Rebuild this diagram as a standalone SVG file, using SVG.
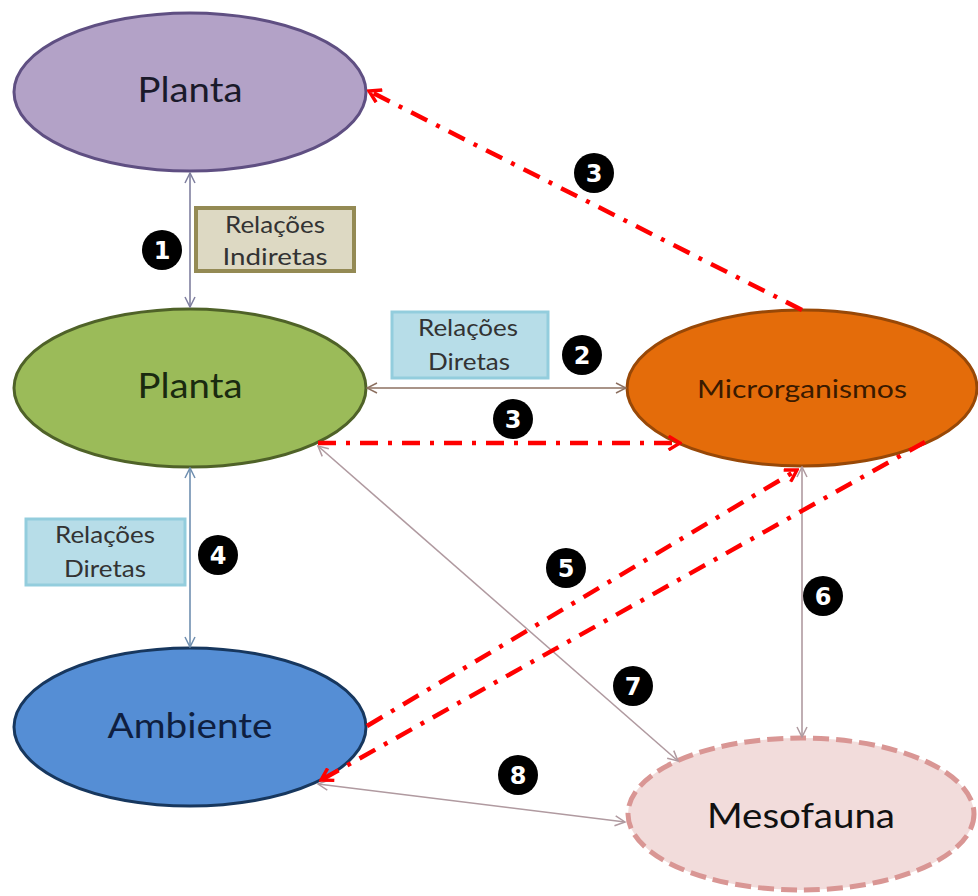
<svg xmlns="http://www.w3.org/2000/svg" width="978" height="896" viewBox="0 0 978 896">
<defs>
<style>
.lbl{font-family:Lato,"Liberation Sans",sans-serif;text-anchor:middle}
.box{font-family:Lato,"Liberation Sans",sans-serif;font-size:23px;fill:#333;text-anchor:middle}
.num{font-family:"DejaVu Sans","Liberation Sans",sans-serif;font-weight:bold;font-size:24px;fill:#fff;text-anchor:middle}
.red{stroke:#ff0000;stroke-width:4.5;stroke-dasharray:18 10 4 10;fill:none}
.thin{fill:none;stroke-width:1.6}
</style>
<marker id="o1" viewBox="0 0 12 12" refX="11" refY="6" markerWidth="12" markerHeight="12" markerUnits="userSpaceOnUse" orient="auto-start-reverse"><path d="M1 1 L11 6 L1 11" fill="none" stroke="#7f7f9f" stroke-width="1.5"/></marker>
<marker id="o2" viewBox="0 0 12 12" refX="11" refY="6" markerWidth="12" markerHeight="12" markerUnits="userSpaceOnUse" orient="auto-start-reverse"><path d="M1 1 L11 6 L1 11" fill="none" stroke="#8c7060" stroke-width="1.5"/></marker>
<marker id="o3" viewBox="0 0 12 12" refX="11" refY="6" markerWidth="12" markerHeight="12" markerUnits="userSpaceOnUse" orient="auto-start-reverse"><path d="M1 1 L11 6 L1 11" fill="none" stroke="#6f8fb0" stroke-width="1.5"/></marker>
<marker id="o4" viewBox="0 0 12 12" refX="11" refY="6" markerWidth="12" markerHeight="12" markerUnits="userSpaceOnUse" orient="auto-start-reverse"><path d="M1 1 L11 6 L1 11" fill="none" stroke="#b09aa0" stroke-width="1.5"/></marker>
<marker id="rh" viewBox="0 0 14 14" refX="12" refY="7" markerWidth="16" markerHeight="16" markerUnits="userSpaceOnUse" orient="auto"><path d="M2 1 L12 7 L2 13" fill="none" stroke="#ff0000" stroke-width="3"/></marker>
</defs>

<g id="planta-top">
<ellipse cx="190" cy="92" rx="176" ry="79" fill="#b3a2c7" stroke="#5f4f82" stroke-width="3"/>
<text class="lbl" x="190" y="102" font-size="34" fill="#1a1a2a" textLength="105" lengthAdjust="spacingAndGlyphs">Planta</text>
</g>
<g id="planta">
<ellipse cx="190" cy="388" rx="176" ry="79" fill="#9bbb59" stroke="#4f6228" stroke-width="3"/>
<text class="lbl" x="190" y="398" font-size="34" fill="#1a2a10" textLength="105" lengthAdjust="spacingAndGlyphs">Planta</text>
</g>
<g id="microrganismos">
<ellipse cx="802" cy="388" rx="175" ry="78" fill="#e46c0a" stroke="#984807" stroke-width="3"/>
<text class="lbl" x="802" y="398" font-size="25" fill="#3a1a00" textLength="210" lengthAdjust="spacingAndGlyphs">Microrganismos</text>
</g>
<g id="ambiente">
<ellipse cx="190" cy="727" rx="176" ry="79" fill="#558ed5" stroke="#17375e" stroke-width="3"/>
<text class="lbl" x="190" y="738" font-size="34" fill="#0f1f40" textLength="165" lengthAdjust="spacingAndGlyphs">Ambiente</text>
</g>
<g id="mesofauna">
<ellipse cx="801" cy="814" rx="173" ry="76" fill="#f2dcdb" stroke="#d99694" stroke-width="5" stroke-dasharray="16 7"/>
<text class="lbl" x="801" y="828" font-size="34" fill="#111" textLength="188" lengthAdjust="spacingAndGlyphs">Mesofauna</text>
</g>

<g id="connectors">
<line x1="190" y1="173" x2="190" y2="307" class="thin" stroke="#7f7f9f" marker-start="url(#o1)" marker-end="url(#o1)"/>
<line x1="367" y1="388" x2="626" y2="388" class="thin" stroke="#8c7060" marker-start="url(#o2)" marker-end="url(#o2)"/>
<line x1="190" y1="468" x2="190" y2="647" class="thin" stroke="#6f8fb0" marker-start="url(#o3)" marker-end="url(#o3)"/>
<line x1="802" y1="467" x2="802" y2="737" class="thin" stroke="#b09aa0" marker-start="url(#o4)" marker-end="url(#o4)"/>
<line x1="318" y1="446" x2="678" y2="761" class="thin" stroke="#b09aa0" marker-start="url(#o4)" marker-end="url(#o4)"/>
<line x1="318" y1="784" x2="625" y2="822" class="thin" stroke="#b09aa0" marker-start="url(#o4)" marker-end="url(#o4)"/>
<line x1="802" y1="310" x2="369" y2="91" class="red" marker-end="url(#rh)"/>
<line x1="318" y1="443" x2="680" y2="443" class="red" marker-end="url(#rh)"/>
<line x1="367" y1="726" x2="797" y2="470" class="red" marker-end="url(#rh)"/>
<line x1="925" y1="442" x2="321" y2="780" class="red" marker-end="url(#rh)"/>
</g>

<g id="box-indiretas">
<rect x="196" y="208" width="158" height="63" fill="#ddd9c3" stroke="#948a54" stroke-width="4"/>
<text class="box" x="275" y="233" textLength="100" lengthAdjust="spacingAndGlyphs">Relações</text>
<text class="box" x="275" y="265" textLength="105" lengthAdjust="spacingAndGlyphs">Indiretas</text>
</g>
<g id="box-diretas-1">
<rect x="392" y="312" width="156" height="66" fill="#b7dde8" stroke="#93cddd" stroke-width="3"/>
<text class="box" x="468" y="336" textLength="100" lengthAdjust="spacingAndGlyphs">Relações</text>
<text class="box" x="469" y="370" textLength="82" lengthAdjust="spacingAndGlyphs">Diretas</text>
</g>
<g id="box-diretas-2">
<rect x="26" y="519" width="159" height="66" fill="#b7dde8" stroke="#93cddd" stroke-width="3"/>
<text class="box" x="105" y="543" textLength="100" lengthAdjust="spacingAndGlyphs">Relações</text>
<text class="box" x="105" y="577" textLength="82" lengthAdjust="spacingAndGlyphs">Diretas</text>
</g>

<g id="badges">
<circle cx="162" cy="250" r="20" fill="#000"/><text class="num" x="162" y="259">1</text>
<circle cx="582" cy="355" r="20" fill="#000"/><text class="num" x="582" y="364">2</text>
<circle cx="513" cy="419" r="20" fill="#000"/><text class="num" x="513" y="428">3</text>
<circle cx="594" cy="173" r="20" fill="#000"/><text class="num" x="594" y="182">3</text>
<circle cx="218" cy="555" r="20" fill="#000"/><text class="num" x="218" y="564">4</text>
<circle cx="566" cy="568" r="20" fill="#000"/><text class="num" x="566" y="577">5</text>
<circle cx="823" cy="596" r="20" fill="#000"/><text class="num" x="823" y="605">6</text>
<circle cx="633" cy="686" r="20" fill="#000"/><text class="num" x="633" y="695">7</text>
<circle cx="518" cy="775" r="20" fill="#000"/><text class="num" x="518" y="784">8</text>
</g>
</svg>
